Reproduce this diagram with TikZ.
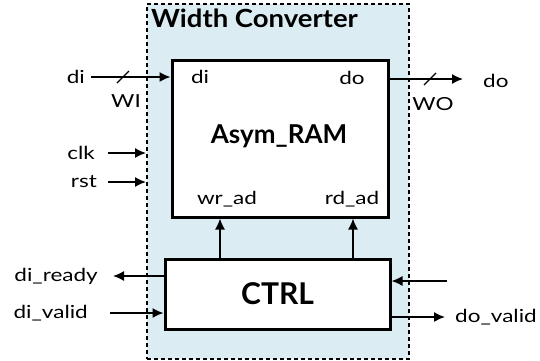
\documentclass[tikz,border=0pt]{standalone}
\usepackage{fontspec}
\setmainfont{Lato}
\newfontfamily\sigfont[FakeStretch=1.25]{Lato}
\newfontfamily\titlefont[FakeStretch=1.1]{Lato}
\usetikzlibrary{arrows.meta}
\definecolor{convbg}{HTML}{DBEDF3}
\begin{document}
\begin{tikzpicture}[x=1pt,y=-1pt,
    sig/.style={font=\sigfont\fontsize{18}{20}\selectfont,inner sep=0pt},
    blk/.style={draw,line width=3pt,fill=white},
    wire/.style={line width=1.5pt,-{Latex[length=11pt,width=10pt]}},
    bus/.style={line width=1.2pt}]
  \useasboundingbox (0,0) rectangle (540,360);
  % converter frame
  \node (conv) at (278,181.5) [draw,dash pattern=on 4pt off 3pt,line width=1.4pt,
    fill=convbg,minimum width=262pt,minimum height=355pt,inner sep=0pt] {};
  \node (title) at (151,27) [anchor=base west,inner sep=0pt,
    font=\titlefont\fontsize{25}{27}\selectfont\bfseries] {Width Converter};
  % blocks
  \node (ram) at (280,138.5) [blk,minimum width=216pt,minimum height=157pt] {};
  \node (ramname) at (279,136) [font=\fontsize{26}{28}\selectfont\bfseries] {Asym\_RAM};
  \node (ctrl) at (277.5,294) [blk,minimum width=225pt,minimum height=70pt,
    font=\fontsize{30}{32}\selectfont\bfseries] {CTRL};
  % ram ports
  \node (pdi) at (200,77) [sig] {di};
  \node (pdo) at (352,78) [sig] {do};
  \node (pwr) at (227,199) [sig] {wr\_ad};
  \node (prd) at (352,199) [sig] {rd\_ad};
  % outside labels
  \node (di) at (85,77) [sig,anchor=east] {di};
  \node (wi) at (126,101) [sig] {WI};
  \node (do) at (483,81) [sig,anchor=west] {do};
  \node (wo) at (433,104) [sig] {WO};
  \node (clk) at (95,153) [sig,anchor=east] {clk};
  \node (rst) at (97,182) [sig,anchor=east] {rst};
  \node (diready) at (98,276) [sig,anchor=east] {di\_ready};
  \node (divalid) at (88,313) [sig,anchor=east] {di\_valid};
  \node (dovalid) at (455,317) [sig,anchor=west] {do\_valid};
  % free ends
  \coordinate (diin) at (91,77);
  \coordinate (doout) at (463,79);
  \coordinate (clkin) at (108,153);
  \coordinate (clkend) at (146,153);
  \coordinate (rstin) at (108,182);
  \coordinate (rstend) at (146,182);
  \coordinate (rdyout) at (113,276);
  \coordinate (vldin) at (110,313);
  \coordinate (ctrlin) at (447,281);
  \coordinate (vldout) at (445,317);
  % data path
  \draw[wire] (diin) -- (ram.west |- diin);
  \draw[bus] (123,77) ++(-6,6) -- ++(12,-12);
  \draw[wire] (ram.east |- doout) -- (doout);
  \draw[bus] (430,79) ++(-6,6) -- ++(12,-12);
  \draw[wire] (clkin) -- (clkend);
  \draw[wire] (rstin) -- (rstend);
  % control
  \draw[wire] (ctrl.north -| 220,0) -- (ram.south -| 220,0);
  \draw[wire] (ctrl.north -| 353,0) -- (ram.south -| 353,0);
  \draw[wire] (ctrl.west |- rdyout) -- (rdyout);
  \draw[wire] (vldin) -- (ctrl.west |- vldin);
  \draw[wire] (ctrlin) -- (ctrl.east |- ctrlin);
  \draw[wire] (ctrl.east |- vldout) -- (vldout);
\end{tikzpicture}
\end{document}
